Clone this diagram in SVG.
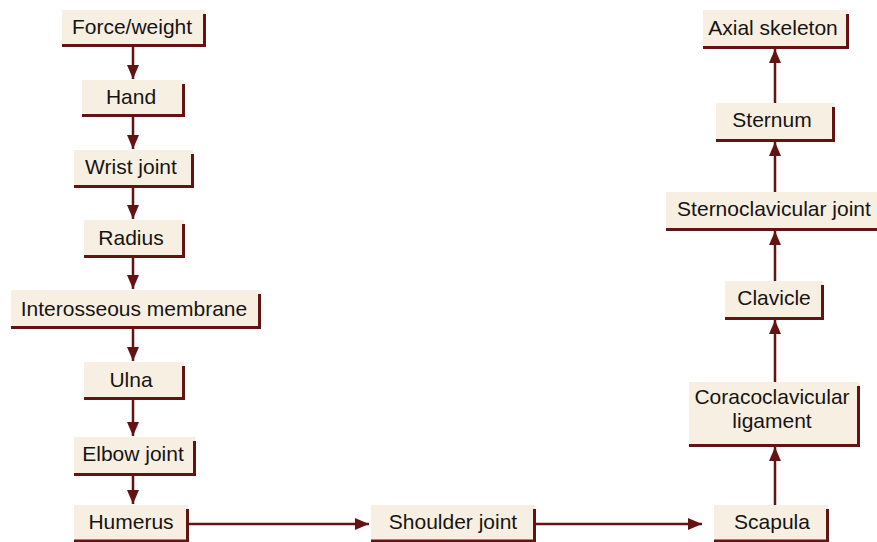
<svg xmlns="http://www.w3.org/2000/svg" width="877" height="542" viewBox="0 0 877 542">
<style>
.box{fill:#f8efe3;stroke:none}
.edge{fill:none;stroke:#641313;stroke-width:3}
.lbl{font-family:"Liberation Sans",Arial,sans-serif;font-size:21px;fill:#161412;text-anchor:middle}
.conn{fill:none;stroke:#641313;stroke-width:2.5;marker-end:url(#ah)}
</style>
<defs>
<marker id="ah" viewBox="0 0 14 12" refX="14" refY="6" markerWidth="14" markerHeight="12" markerUnits="userSpaceOnUse" orient="auto">
<path d="M0,0 L14,6 L0,12 z" fill="#641313"/>
</marker>
</defs>
<rect width="877" height="542" fill="#ffffff"/>
<g id="connectors">
<line class="conn" x1="133" y1="47" x2="133" y2="79"/>
<line class="conn" x1="133" y1="117" x2="133" y2="149"/>
<line class="conn" x1="133" y1="188" x2="133" y2="219"/>
<line class="conn" x1="133" y1="258" x2="133" y2="289"/>
<line class="conn" x1="133" y1="329" x2="133" y2="361"/>
<line class="conn" x1="133" y1="400" x2="133" y2="436"/>
<line class="conn" x1="133" y1="476" x2="133" y2="504"/>
<line class="conn" x1="189" y1="524" x2="369" y2="524"/>
<line class="conn" x1="536" y1="524" x2="702" y2="524"/>
<line class="conn" x1="775" y1="505" x2="775" y2="447"/>
<line class="conn" x1="775" y1="382" x2="775" y2="320"/>
<line class="conn" x1="775" y1="281" x2="775" y2="231"/>
<line class="conn" x1="775" y1="192" x2="775" y2="142"/>
<line class="conn" x1="775" y1="103" x2="775" y2="49"/>
</g>
<g id="force">
<rect class="box" x="62" y="10" width="143" height="36"/>
<path class="edge" d="M62,45.5 H204.5 V14"/>
<text class="lbl" x="132" y="34">Force/weight</text>
</g>
<g id="hand">
<rect class="box" x="82" y="80" width="102" height="36"/>
<path class="edge" d="M82,115.5 H183.5 V84"/>
<text class="lbl" x="131" y="104">Hand</text>
</g>
<g id="wrist">
<rect class="box" x="74" y="150" width="119" height="37"/>
<path class="edge" d="M74,186.5 H192.5 V154"/>
<text class="lbl" x="131" y="174">Wrist joint</text>
</g>
<g id="radius">
<rect class="box" x="84" y="220" width="100" height="37"/>
<path class="edge" d="M84,256.5 H183.5 V224"/>
<text class="lbl" x="131" y="245">Radius</text>
</g>
<g id="interosseous">
<rect class="box" x="11" y="290" width="249" height="38"/>
<path class="edge" d="M11,327.5 H259.5 V294"/>
<text class="lbl" x="134" y="316">Interosseous membrane</text>
</g>
<g id="ulna">
<rect class="box" x="84" y="362" width="100" height="37"/>
<path class="edge" d="M84,398.5 H183.5 V366"/>
<text class="lbl" x="131" y="387">Ulna</text>
</g>
<g id="elbow">
<rect class="box" x="74" y="437" width="121" height="38"/>
<path class="edge" d="M74,474.5 H194.5 V441"/>
<text class="lbl" x="133" y="461">Elbow joint</text>
</g>
<g id="humerus">
<rect class="box" x="74" y="505" width="114" height="37"/>
<path class="edge" d="M74,541 H187.5 V509"/>
<text class="lbl" x="131" y="529">Humerus</text>
</g>
<g id="shoulder">
<rect class="box" x="371" y="505" width="164" height="37"/>
<path class="edge" d="M371,541 H534.5 V509"/>
<text class="lbl" x="453" y="529">Shoulder joint</text>
</g>
<g id="scapula">
<rect class="box" x="714" y="505" width="114" height="37"/>
<path class="edge" d="M714,541 H827.5 V509"/>
<text class="lbl" x="772" y="529">Scapula</text>
</g>
<g id="coracoclavicular">
<rect class="box" x="689" y="382" width="170" height="64"/>
<path class="edge" d="M689,445.5 H858.5 V386"/>
<text class="lbl" x="772" y="404">Coracoclavicular</text>
<text class="lbl" x="772" y="428">ligament</text>
</g>
<g id="clavicle">
<rect class="box" x="725" y="281" width="98" height="38"/>
<path class="edge" d="M725,318.5 H822.5 V285"/>
<text class="lbl" x="774" y="305">Clavicle</text>
</g>
<g id="sternoclavicular">
<rect class="box" x="666" y="192" width="211" height="38"/>
<path class="edge" d="M666,229.5 H877"/>
<text class="lbl" x="774" y="216">Sternoclavicular joint</text>
</g>
<g id="sternum">
<rect class="box" x="716" y="103" width="118" height="38"/>
<path class="edge" d="M716,140.5 H833.5 V107"/>
<text class="lbl" x="772" y="127">Sternum</text>
</g>
<g id="axial">
<rect class="box" x="703" y="10" width="145" height="38"/>
<path class="edge" d="M703,47.5 H847.5 V14"/>
<text class="lbl" x="773" y="35">Axial skeleton</text>
</g>
</svg>
